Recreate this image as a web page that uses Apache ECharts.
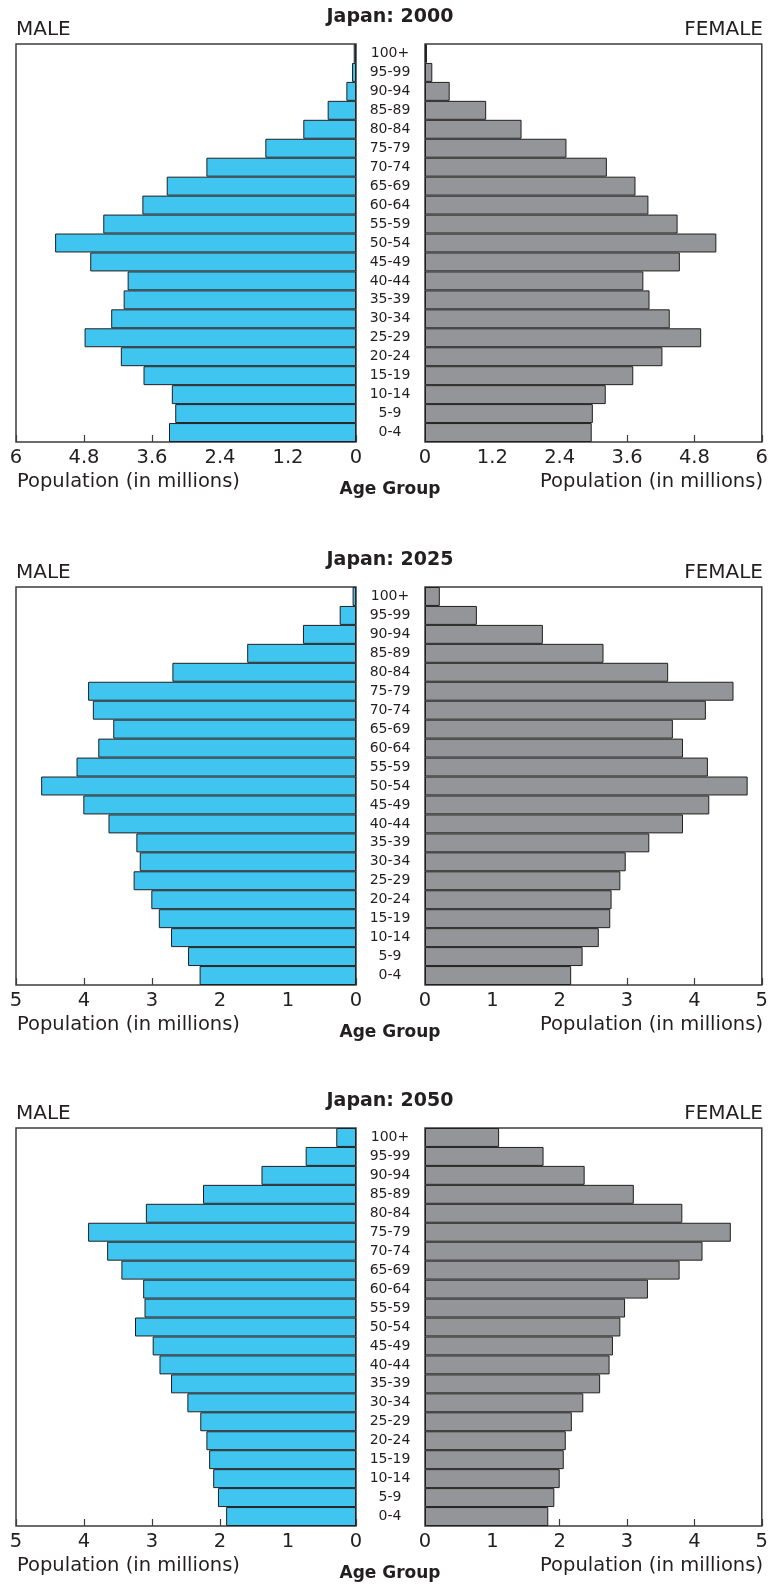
<!DOCTYPE html>
<html><head><meta charset="utf-8">
<script src="https://cdn.jsdelivr.net/npm/echarts@6/dist/echarts.min.js"></script>
<style>html,body{margin:0;padding:0;background:#fff}#c{width:771px;height:1585px}</style>
</head><body><div id="c"></div>
<script>
// Age groups from youngest (bottom) to oldest (top)
const ageGroups = ['0-4','5-9','10-14','15-19','20-24','25-29','30-34','35-39','40-44','45-49','50-54','55-59','60-64','65-69','70-74','75-79','80-84','85-89','90-94','95-99','100+'];
const years = ['2000', '2025', '2050'];
// Population in millions
const male2000   = [3.30,3.19,3.25,3.75,4.15,4.79,4.32,4.10,4.03,4.69,5.31,4.46,3.77,3.34,2.64,1.60,0.93,0.50,0.17,0.07,0.04];
const female2000 = [2.97,2.99,3.22,3.71,4.23,4.92,4.36,4.00,3.89,4.54,5.19,4.50,3.98,3.75,3.24,2.52,1.72,1.09,0.44,0.13,0.035];
const male2025   = [2.30,2.47,2.72,2.90,3.01,3.27,3.18,3.23,3.64,4.01,4.63,4.11,3.79,3.57,3.87,3.94,2.70,1.60,0.78,0.24,0.05];
const female2025 = [2.17,2.34,2.58,2.75,2.77,2.90,2.98,3.33,3.83,4.22,4.79,4.20,3.83,3.68,4.17,4.58,3.61,2.65,1.75,0.77,0.22];
const male2050   = [1.91,2.03,2.10,2.16,2.20,2.29,2.48,2.72,2.89,2.99,3.25,3.11,3.13,3.45,3.66,3.94,3.09,2.25,1.39,0.74,0.29];
const female2050 = [1.83,1.92,2.00,2.06,2.09,2.18,2.35,2.60,2.74,2.79,2.90,2.97,3.31,3.78,4.12,4.54,3.82,3.10,2.37,1.76,1.10];
const axisMax = [6, 5, 5];
const axisStep = [1.2, 1, 1];

const maleData = [male2000, male2025, male2050];
const femaleData = [female2000, female2025, female2050];

// layout
const panelTops = [44, 587, 1128];
const boxH = 398;
const leftX = 16, leftW = 340, rightX = 425, rightW = 339;
const FONT = '"DejaVu Sans", sans-serif';
const TXT = '#231f20';
const MALE_C = '#3fc5f0', FEMALE_C = '#939598', STROKE = '#231f20', BOX = '#3d3d3d';

const grid = [], xAxis = [], yAxis = [], series = [], graphic = [];
function txt(x, y, text, align, size, weight) {
  graphic.push({type:'text', x:x, y:y, silent:true, z:100, style:{
    text:text, fill:TXT, font:(weight||'normal') + ' ' + size + 'px ' + FONT,
    align:align, verticalAlign:'middle', textAlign:align, textVerticalAlign:'middle'}});
}
years.forEach((yr, p) => {
  const T = panelTops[p], B = T + boxH;
  [0, 1].forEach(side => {
    const gi = p * 2 + side;
    grid.push({left: side ? rightX : leftX, top: T, width: side ? rightW : leftW, height: boxH,
      show: true, borderColor: BOX, borderWidth: 1.5, backgroundColor: 'transparent', containLabel: false});
    xAxis.push({type:'value', gridIndex: gi, min: 0, max: axisMax[p], interval: axisStep[p], inverse: side === 0,
      axisLine:{show:false}, splitLine:{show:false},
      axisTick:{show:true, inside:true, length:7, lineStyle:{color:BOX, width:1.2}},
      axisLabel:{show:true, margin:6, fontSize:19.5, fontFamily:FONT, color:TXT,
        formatter: v => String(+(+v).toFixed(1))}});
    yAxis.push({type:'category', gridIndex: gi, data: ageGroups, position:'left',
      axisLine:{show:false}, axisTick:{show:false}, splitLine:{show:false},
      axisLabel:{show: side === 1, align:'center', margin: rightX - 390, fontSize:14, fontFamily:FONT, color:TXT, interval:0}});
    series.push({type:'bar', xAxisIndex: gi, yAxisIndex: gi, barCategoryGap: 0,
      data: side ? femaleData[p] : maleData[p], silent:true,
      itemStyle:{color: side ? FEMALE_C : MALE_C, borderColor: STROKE, borderWidth: 1}});
  });
  txt(390, T - 27, 'Japan: ' + yr, 'center', 19, 'bold');
  txt(leftX, T - 14, 'MALE', 'left', 20);
  txt(rightX + rightW - 1, T - 14, 'FEMALE', 'right', 20);
  txt(leftX + 1, B + 40, 'Population (in millions)', 'left', 19.5);
  txt(rightX + rightW - 1, B + 40, 'Population (in millions)', 'right', 19.5);
  txt(390, B + 48, 'Age Group', 'center', 17, 'bold');
});

const chart = echarts.init(document.getElementById('c'), null, {renderer:'canvas'});
chart.setOption({animation:false, backgroundColor:'#fff', grid, xAxis, yAxis, series, graphic});
</script></body></html>
